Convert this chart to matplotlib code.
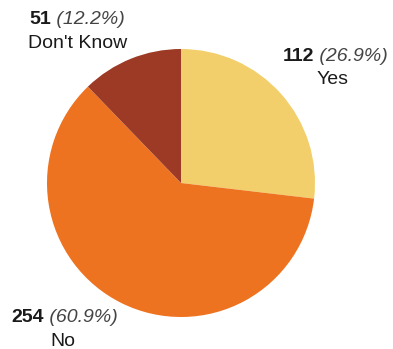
import matplotlib.pyplot as plt

# 回答统计
labels = ['Yes', 'No', "Don't Know"]
counts = [112, 254, 51]
colors = ['#F2CF6B', '#EE7321', '#9C3A25']

# 标签位置（像素，左上角为原点）：第一行起点x、基线y，第二行中心x、基线y
label_pos = {
    'Yes': (283, 61, 333, 84),
    'No': (11, 322, 63, 346),
    "Don't Know": (29, 24, 78, 48),
}

W, H = 393, 349
fig = plt.figure(figsize=(W / 100, H / 100), dpi=100)
ax = fig.add_axes([0, 0, 1, 1])

# 饼图圆心与半径（像素）
cx, cy, r = 181, 183, 134
ax.pie(counts, colors=colors, startangle=90, counterclock=False,
       radius=1, center=(0, 0), wedgeprops={'linewidth': 0})
ax.set_xlim(-cx / r, (W - cx) / r)
ax.set_ylim(-(H - cy) / r, cy / r)
ax.set_aspect('equal')
ax.axis('off')

total = sum(counts)
font = 'Liberation Sans'
fs = 14
for lab, n in zip(labels, counts):
    x0, y0, x1, y1 = label_pos[lab]
    t = ax.annotate(str(n), xy=(x0, H - y0), xycoords='figure pixels',
                    ha='left', va='baseline', fontsize=fs,
                    fontweight='bold', family=font, color='#1a1a1a')
    ax.annotate(' (%.1f%%)' % (n / total * 100), xy=(1, 0), xycoords=t,
                ha='left', va='bottom', fontsize=fs, fontstyle='italic',
                family=font, color='#444444')
    ax.annotate(lab, xy=(x1, H - y1), xycoords='figure pixels',
                ha='center', va='baseline', fontsize=fs,
                family=font, color='#1a1a1a')

fig.savefig('out.png', dpi=100, facecolor='white')
